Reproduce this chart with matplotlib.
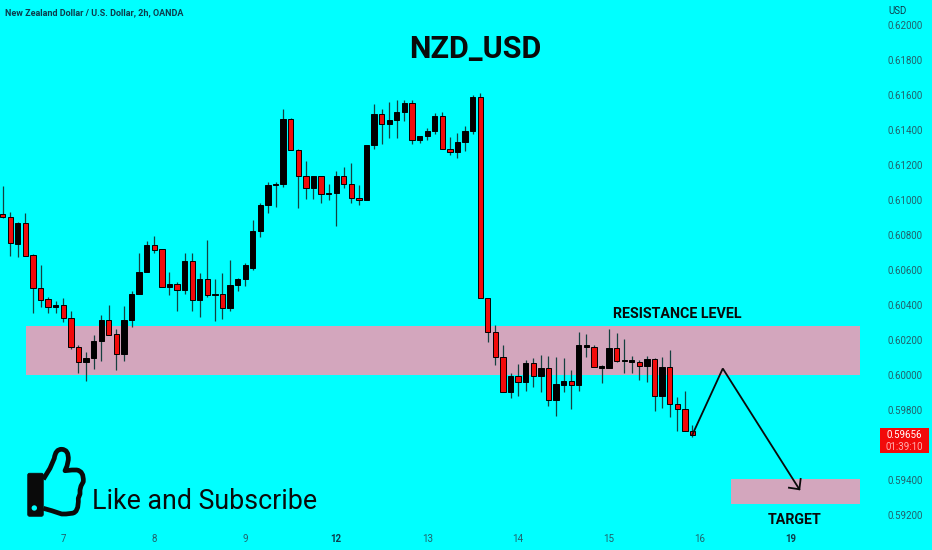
import matplotlib
matplotlib.use("Agg")
import matplotlib.pyplot as plt
from matplotlib.patches import Rectangle, PathPatch, Circle, FancyBboxPatch
from matplotlib.path import Path

# candles, prices in 1e-5 units
opens = [60920, 60901, 60750, 60866, 60683, 60495, 60432, 60388, 60398, 60323,
         60162, 60074, 60097, 60196, 60314, 60232, 60120, 60312, 60462, 60590,
         60744, 60718, 60504, 60518, 60483, 60651, 60428, 60546, 60459, 60461,
         60384, 60512, 60547, 60610, 60821, 60970, 61086, 61090, 61461, 61284,
         61135, 61071, 61135, 61040, 61042, 61135, 61092, 61014, 61000, 61315,
         61492, 61433, 61457, 61501, 61556, 61345, 61368, 61396, 61480, 61292,
         61273, 61334, 61396, 61591, 60438, 60246, 60103, 59905, 59994, 59958,
         60067, 59994, 60038, 59855, 59945, 59968, 59941, 60162, 60162, 60040,
         60038, 60153, 60078, 60073, 60075, 60052, 60094, 59880, 60046, 59833,
         59804, 59678]
closes = [60904, 60752, 60870, 60682, 60495, 60430, 60388, 60400, 60325, 60162,
          60074, 60097, 60196, 60316, 60230, 60121, 60314, 60464, 60588, 60744,
          60716, 60504, 60518, 60483, 60651, 60428, 60546, 60459, 60461, 60384,
          60512, 60546, 60628, 60823, 60970, 61088, 61092, 61461, 61284, 61135,
          61071, 61135, 61033, 61033, 61135, 61094, 61014, 61000, 61315, 61492,
          61433, 61457, 61501, 61556, 61345, 61368, 61396, 61480, 61292, 61273,
          61334, 61396, 61591, 60438, 60248, 60105, 59905, 59994, 59958, 60069,
          59994, 60038, 59855, 59947, 59968, 59941, 60172, 60172, 60048, 60050,
          60153, 60082, 60084, 60084, 60052, 60094, 59880, 60046, 59836, 59804,
          59678, 59655]
highs = [61080, 60933, 60876, 60927, 60691, 60628, 60443, 60424, 60438, 60367,
         60171, 60133, 60228, 60344, 60400, 60261, 60394, 60482, 60695, 60763,
         60794, 60718, 60586, 60533, 60695, 60695, 60584, 60769, 60550, 60581,
         60657, 60552, 60638, 60886, 60981, 61105, 61105, 61518, 61471, 61290,
         61223, 61137, 61137, 61090, 61168, 61191, 61210, 61084, 61315, 61549,
         61518, 61560, 61572, 61572, 61572, 61368, 61414, 61496, 61505, 61358,
         61381, 61423, 61600, 61610, 60438, 60286, 60172, 60010, 60063, 60086,
         60095, 60115, 60111, 60101, 60095, 60029, 60248, 60235, 60172, 60057,
         60261, 60242, 60204, 60111, 60086, 60111, 60099, 60101, 60143, 59876,
         59909, 59714]
lows = [60895, 60680, 60672, 60680, 60352, 60390, 60352, 60352, 60304, 60146,
        60013, 59965, 60036, 60080, 60228, 60028, 60080, 60276, 60462, 60590,
        60695, 60501, 60457, 60365, 60462, 60367, 60333, 60447, 60310, 60318,
        60365, 60478, 60509, 60600, 60791, 60928, 60958, 61076, 61284, 60956,
        61004, 61004, 60985, 61000, 60852, 61067, 60985, 60972, 61000, 61290,
        61318, 61356, 61356, 61454, 61318, 61324, 61343, 61377, 61290, 61255,
        61238, 61282, 61375, 60438, 60191, 60057, 59905, 59867, 59882, 59909,
        59934, 59905, 59825, 59766, 59905, 59808, 59909, 60105, 60044, 59953,
        60038, 60076, 60010, 60014, 59972, 59958, 59794, 59810, 59758, 59682,
        59678, 59648]

price_ticks = [0.592, 0.594, 0.598, 0.600, 0.602, 0.604, 0.606, 0.608,
               0.610, 0.612, 0.614, 0.616, 0.618, 0.620]
day_positions = [8, 20, 32, 44, 56, 68, 80, 92, 104]
day_labels = ["7", "8", "9", "12", "13", "14", "15", "16", "19"]
bold_days = ["12", "19"]

resistance_zone = (0.6000, 0.6028)
target_zone = (0.59263, 0.59403)
path_x = [91, 95.0, 105.1]
path_y = [0.59660, 0.60037, 0.59347]
head_x = [105.27, 105.1, 103.73]
head_y = [0.59406, 0.59347, 0.59356]

bg = "#00ffff"
tick_color = "#22606a"
head_color = "#0d3d4d"
red = "#f20a0a"
zone_color = "#d3a6bd"

plt.rcParams["font.family"] = ["Roboto", "DejaVu Sans"]

fig = plt.figure(figsize=(9.32, 5.5), dpi=100)
fig.set_facecolor(bg)
ax = fig.add_axes([0, 0, 1, 1])
ax.set_facecolor(bg)
for side in ax.spines.values():
    side.set_visible(False)
ax.set_xlim(-0.352, 122.6)
ax.set_ylim(0.59, 0.621429)

ax.add_patch(Rectangle((3.08, resistance_zone[0]), 109.96,
                       resistance_zone[1] - resistance_zone[0], color=zone_color, lw=0, zorder=1))
ax.add_patch(Rectangle((96.05, target_zone[0]), 17.05,
                       target_zone[1] - target_zone[0], color=zone_color, lw=0, zorder=1))

for i in range(len(opens)):
    o, c = opens[i] / 1e5, closes[i] / 1e5
    ax.vlines(i, lows[i] / 1e5, highs[i] / 1e5, color="#14403f", lw=0.9, zorder=2)
    ax.bar(i, abs(c - o), bottom=min(o, c), width=0.7,
           color=red if c < o else "black", edgecolor="black", lw=0.7, zorder=3)

ax.plot(path_x, path_y, color="#0a0a0a", lw=1.3, zorder=4, solid_joinstyle="miter")
ax.plot(head_x, head_y, color="#0a0a0a", lw=1.3, zorder=4)

ax.yaxis.tick_right()
ax.set_yticks(price_ticks)
ax.set_yticklabels([f"{p:.5f}" for p in price_ticks])
ax.tick_params(axis="y", length=0, pad=-32, labelsize=7, labelcolor=tick_color)
ax.set_xticks(day_positions)
ax.set_xticklabels(day_labels)
ax.tick_params(axis="x", length=0, pad=-11.5, labelsize=7, labelcolor=tick_color)
for label in ax.get_xticklabels():
    if label.get_text() in bold_days:
        label.set_fontweight("bold")
        label.set_color(head_color)

# overlay in screen pixels for the drawn-on annotations
ov = fig.add_axes([0, 0, 1, 1])
ov.set_xlim(0, 932)
ov.set_ylim(550, 0)
ov.axis("off")

ov.text(5.3, 13, "New Zealand Dollar / U.S. Dollar, 2h, OANDA", fontsize=6.5,
        fontweight="bold", color=head_color, va="center", ha="left")
ov.text(888, 11, "USD", fontsize=7, color=head_color, va="center", ha="left")
ov.text(475, 58, "NZD_USD", fontsize=22, fontweight="bold", color="#0a0a0a", va="baseline", ha="center")
ov.text(677.2, 317.7, "RESISTANCE LEVEL", fontsize=10.3, fontweight="bold", color="#0a0a0a",
        va="baseline", ha="center")
ov.text(795, 524, "TARGET", fontsize=10.3, fontweight="bold", color="#0a0a0a", va="baseline", ha="center")
ov.text(91.7, 509, "Like and Subscribe", fontsize=19.3, color="#0a0a0a", va="baseline", ha="left")

ov.add_patch(Rectangle((880.3, 428.3), 48.4, 25, color=red, lw=0))
ov.text(904.5, 435.5, "0.59656", fontsize=7, color="white", va="center", ha="center")
ov.text(904.5, 446.5, "01:39:10", fontsize=7, color="#ffb0b0", va="center", ha="center")

# thumb icon, curved outline with quadratic segments
thumb = [(43.3, 479.3), (50, 468.3), (54.3, 458.3), (55.5, 449), (61.7, 449.3),
         (69, 449.5), (68.3, 460), (67, 466), (65, 470.7), (72, 470), (76.7, 470),
         (84, 471), (83.3, 481.7), (81, 486), (80, 490), (80, 494), (78.3, 498.3),
         (79, 513), (71.7, 513.3), (66, 514), (61.7, 514), (51.7, 510.7), (43.3, 508.3)]
codes = [Path.MOVETO] + [Path.LINETO, Path.LINETO, Path.CURVE3, Path.CURVE3, Path.CURVE3,
                         Path.CURVE3, Path.LINETO, Path.LINETO, Path.LINETO, Path.LINETO,
                         Path.CURVE3, Path.CURVE3, Path.LINETO, Path.LINETO, Path.LINETO,
                         Path.LINETO, Path.CURVE3, Path.CURVE3, Path.LINETO, Path.LINETO,
                         Path.LINETO, Path.LINETO]
ov.add_patch(PathPatch(Path(thumb, codes), fill=False, edgecolor="#0a0a0a", lw=3.4, joinstyle="round"))
ov.add_patch(FancyBboxPatch((29.5, 475), 12, 39.5, boxstyle="round,pad=1.8", fc="#0a0a0a", ec="#0a0a0a", lw=0.5))
ov.add_patch(Circle((34.3, 508), 2.7, fc=bg, ec="none"))

plt.savefig("out.png", dpi=100, facecolor=bg)
